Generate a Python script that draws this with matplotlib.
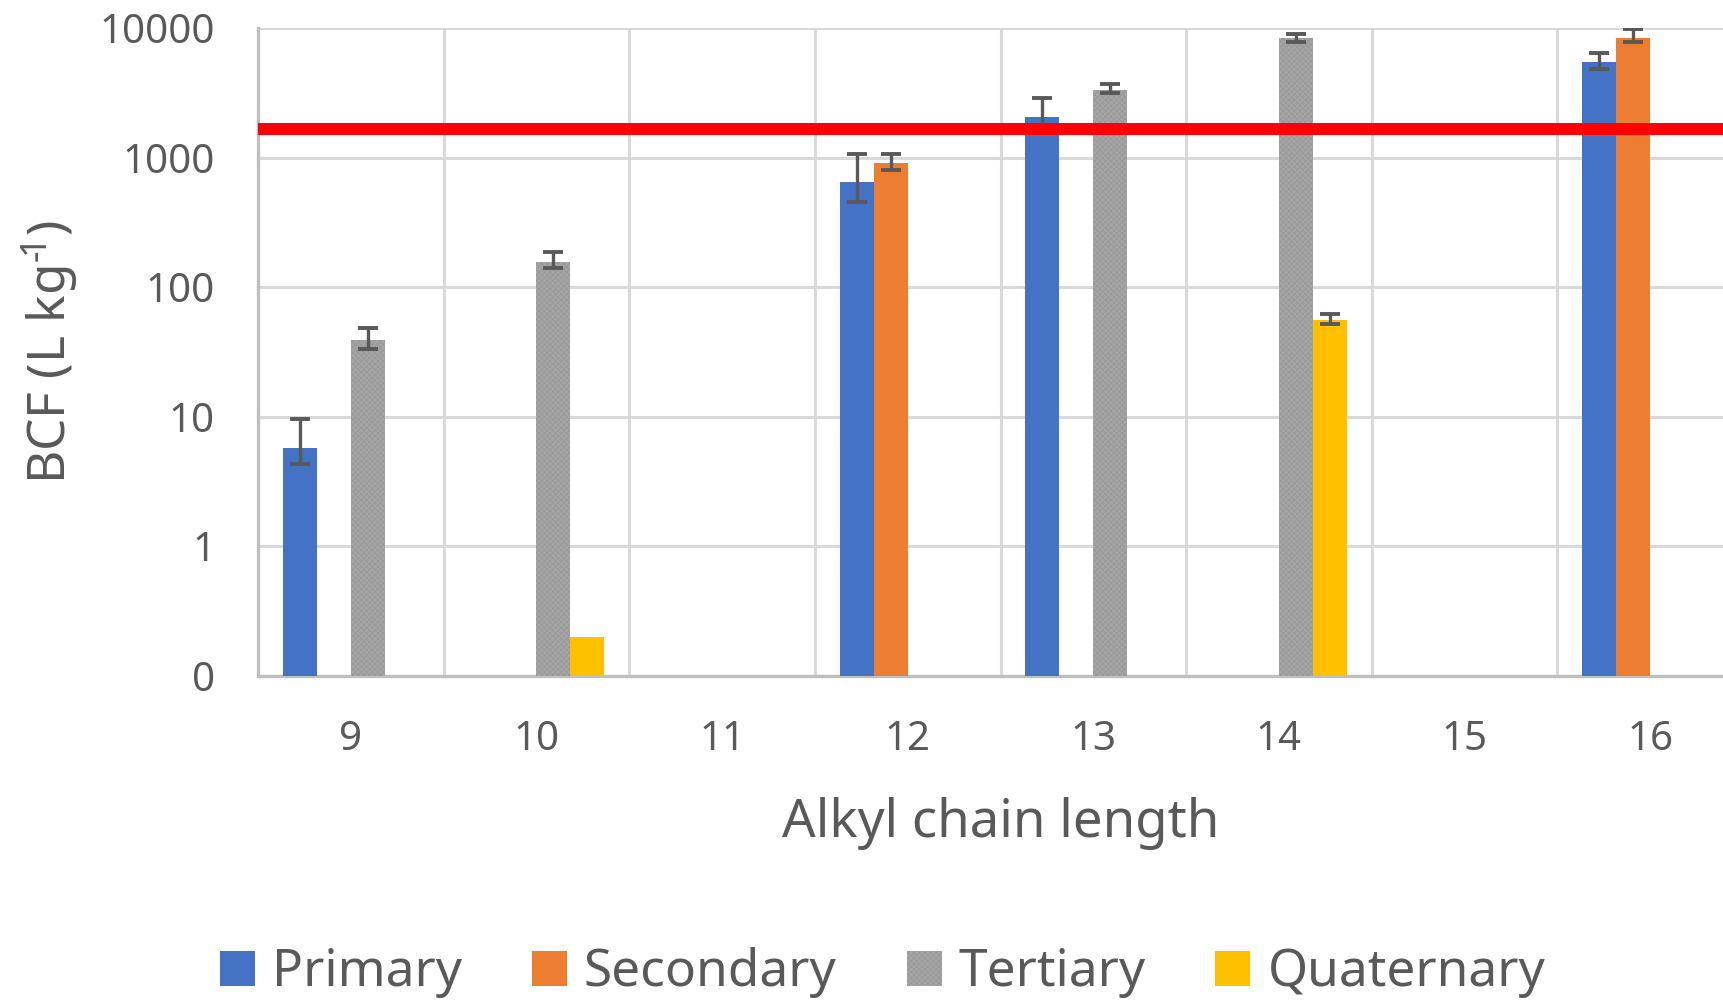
import numpy as np
import matplotlib.pyplot as plt
from matplotlib.ticker import FixedLocator, FixedFormatter, NullLocator

nan = np.nan

# alkyl chain length categories
chain_lengths = ["9", "10", "11", "12", "13", "14", "15", "16"]

# BCF values (L/kg) per amine class, nan = no data
primary = [5.8, nan, nan, 650, 2080, nan, nan, 5480]
primary_err_lo = [1.5, nan, nan, 190, 330, nan, nan, 670]
primary_err_hi = [3.9, nan, nan, 417, 820, nan, nan, 910]

secondary = [nan, nan, nan, 920, nan, nan, nan, 8360]
secondary_err_lo = [nan, nan, nan, 120, nan, nan, nan, 510]
secondary_err_hi = [nan, nan, nan, 147, nan, nan, nan, 1480]

tertiary = [39.5, 158, nan, nan, 3360, 8360, nan, nan]
tertiary_err_lo = [6.1, 17, nan, nan, 210, 520, nan, nan]
tertiary_err_hi = [9.0, 29, nan, nan, 370, 720, nan, nan]

quaternary = [nan, 0.2, nan, nan, nan, 56, nan, nan]
quaternary_err_lo = [nan, nan, nan, nan, nan, 4.2, nan, nan]
quaternary_err_hi = [nan, nan, nan, nan, nan, 6.0, nan, nan]

# bioaccumulation threshold
bcf_threshold = 1660

y_ticks = [0.1, 1, 10, 100, 1000, 10000]
y_tick_labels = ["0", "1", "10", "100", "1000", "10000"]

series = [
    ("Primary", primary, primary_err_lo, primary_err_hi, "#4472c4", None),
    ("Secondary", secondary, secondary_err_lo, secondary_err_hi, "#ed7d31", None),
    ("Tertiary", tertiary, tertiary_err_lo, tertiary_err_hi, "#a5a5a5", "xxxxxx"),
    ("Quaternary", quaternary, quaternary_err_lo, quaternary_err_hi, "#ffc000", None),
]

text_color = "#595959"
grid_color = "#d9d9d9"

plt.rcParams["font.family"] = ["Noto Sans", "DejaVu Sans"]
plt.rcParams["mathtext.fontset"] = "custom"
plt.rcParams["mathtext.rm"] = "Noto Sans"
plt.rcParams["mathtext.default"] = "regular"
plt.rcParams["hatch.linewidth"] = 0.6

fig = plt.figure(figsize=(17.24, 10), dpi=100)
ax = fig.add_axes([0.1497, 0.324, 1.011 - 0.1497, 0.9717 - 0.324])

x = np.arange(len(chain_lengths))
w = 0.183
handles = []
for i, (name, vals, lo, hi, color, hatch) in enumerate(series):
    vals = np.array(vals, dtype=float)
    lo = np.array(lo, dtype=float)
    hi = np.array(hi, dtype=float)
    pos = x + (i - 1.5) * w
    ok = ~np.isnan(vals)
    b = ax.bar(pos[ok], vals[ok], width=w, color=color, hatch=hatch,
               edgecolor="#989898" if hatch else color, linewidth=0,
               label=name, zorder=3)
    handles.append(b)
    e = ok & ~np.isnan(lo)
    if e.any():
        ax.errorbar(pos[e], vals[e], yerr=[lo[e], hi[e]], fmt="none",
                    ecolor="#595959", elinewidth=2.4, capsize=7.5,
                    capthick=2.8, zorder=4)

ax.axhline(bcf_threshold, xmin=0.003, color="#ff0000", linewidth=8.6, zorder=5)

ax.set_yscale("log")
ax.set_ylim(0.1, 10000)
ax.set_xlim(-0.5, len(chain_lengths) - 0.5)
ax.yaxis.set_major_locator(FixedLocator(y_ticks))
ax.yaxis.set_major_formatter(FixedFormatter(y_tick_labels))
ax.yaxis.set_minor_locator(NullLocator())
ax.set_xticks(x)
ax.set_xticklabels(chain_lengths)

# gridlines between categories
ax.set_xticks(x[:-1] + 0.5, minor=True)
ax.grid(axis="x", which="minor", color=grid_color, linewidth=2.2, zorder=0)
ax.grid(axis="y", which="major", color=grid_color, linewidth=2.2, zorder=0)

ax.tick_params(axis="both", which="both", length=0, labelsize=29,
               labelcolor=text_color)
ax.tick_params(axis="y", pad=31)
ax.tick_params(axis="x", pad=32)

for side in ["top", "right"]:
    ax.spines[side].set_visible(False)
for side in ["left", "bottom"]:
    ax.spines[side].set_color("#bfbfbf")
    ax.spines[side].set_linewidth(2.4)

ax.set_xlabel("Alkyl chain length", fontsize=38, color=text_color, labelpad=26)
ax.set_ylabel("BCF (L kg$^{\u2010\\!1}$)", fontsize=37, color=text_color,
              labelpad=14)

fig.legend(handles=handles, loc="center", bbox_to_anchor=(0.512, 0.027),
           ncol=4, frameon=False, fontsize=37, labelcolor=text_color,
           handlelength=0.68, handleheight=0.68, handletextpad=0.33,
           columnspacing=1.36)

fig.savefig("out.png", dpi=100, facecolor="white")
